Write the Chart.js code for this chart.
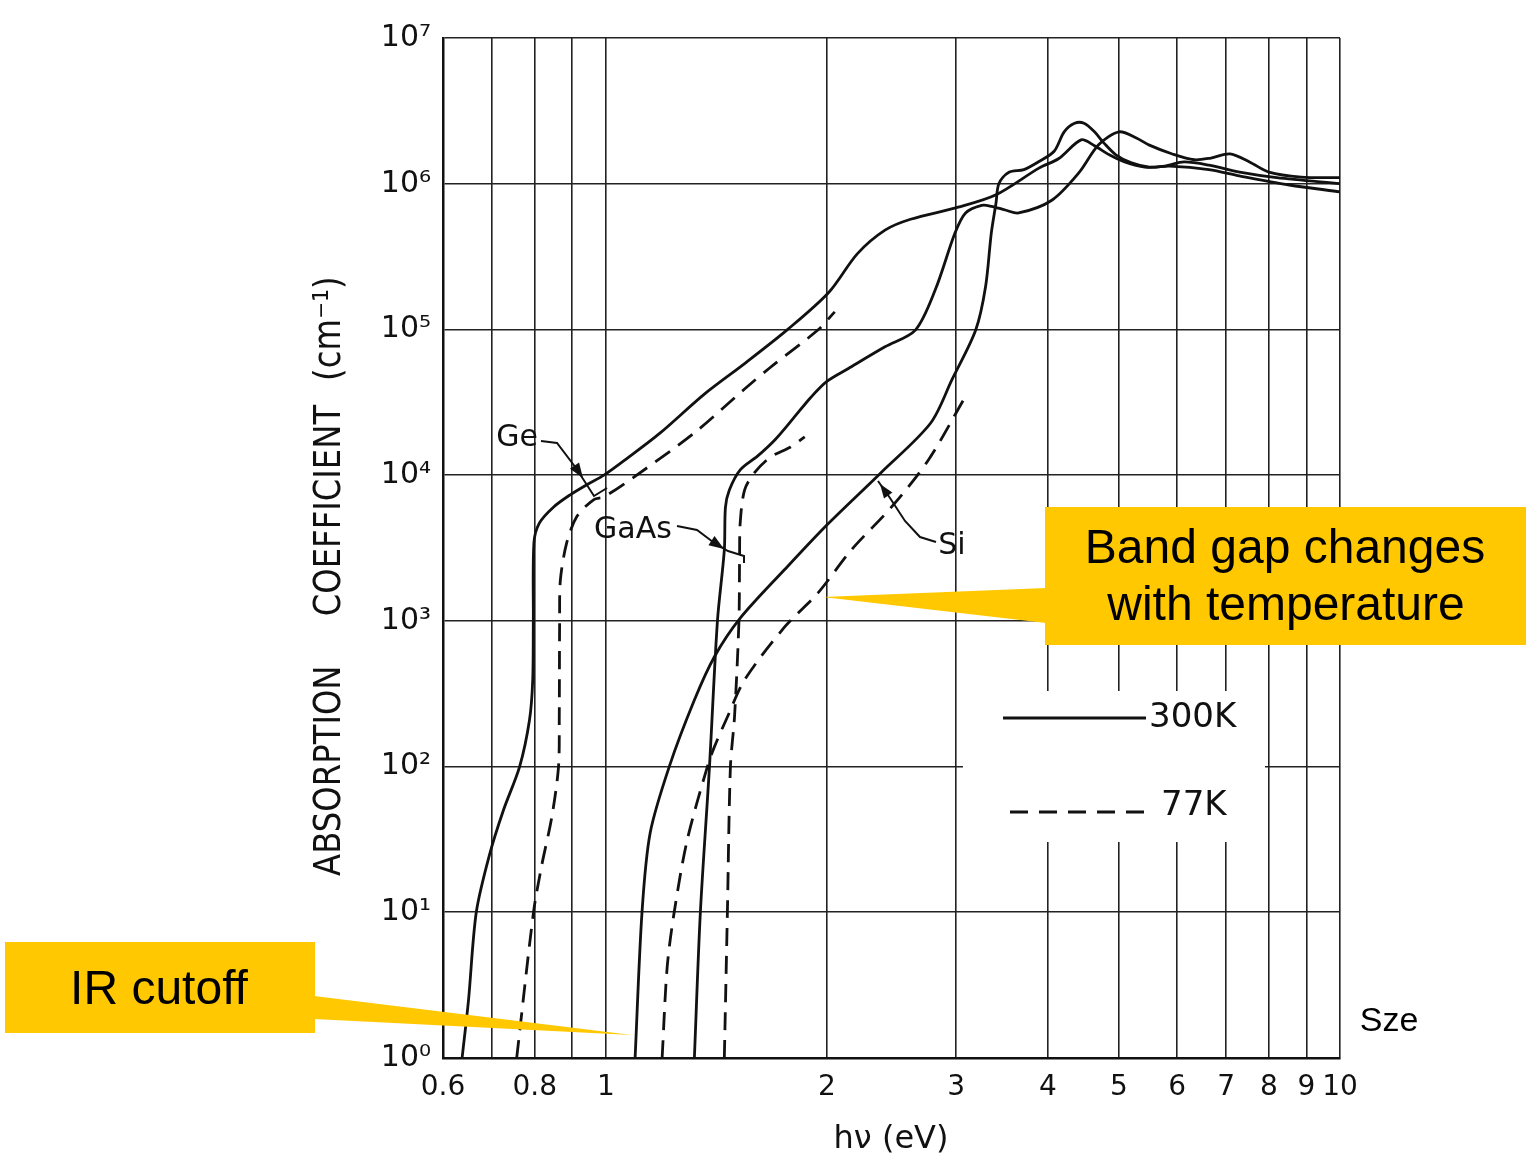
<!DOCTYPE html>
<html>
<head>
<meta charset="utf-8">
<title>Absorption coefficient vs photon energy</title>
<script src="https://cdn.jsdelivr.net/npm/chart.js@4.4.1/dist/chart.umd.min.js"></script>
<style>
  html, body { margin: 0; padding: 0; background: #fff; }
  #wrap { width: 1528px; height: 1164px; position: relative; }
</style>
</head>
<body>
<div id="wrap"><canvas id="myChart"></canvas></div>
<script>
// photon energy h-nu (eV) and absorption coefficient (cm^-1)
const geEnergy300 = [0.637, 0.650, 0.666, 0.694, 0.725, 0.763, 0.787, 0.795, 0.7965, 0.798, 0.812, 0.849, 0.893, 0.942, 0.994, 1.068, 1.186, 1.362, 1.55, 1.769, 2.013, 2.2, 2.4, 2.6, 3.02, 3.40, 3.89, 4.14, 4.44, 4.63, 4.85, 5.09, 5.42, 5.77, 6.13, 6.63, 7.3, 8.2, 10];
const geAlpha300 = [1, 2.5, 10, 24.7, 50, 100, 209, 393, 1000, 3430, 4700, 6050, 7300, 8600, 1.0e4, 1.3e4, 1.95e4, 3.6e4, 5.9e4, 1.0e5, 1.8e5, 3.3e5, 4.8e5, 5.7e5, 6.9e5, 8.4e5, 1.28e6, 1.49e6, 2.0e6, 1.82e6, 1.58e6, 1.41e6, 1.30e6, 1.32e6, 1.41e6, 1.34e6, 1.2e6, 1.1e6, 1.0e6];

const geEnergy77 = [0.756, 0.797, 0.817, 0.844, 0.862, 0.864, 0.865, 0.867, 0.884, 0.913, 0.963, 0.994, 1.092, 1.32, 1.545, 1.676, 1.944, 2.05];
const geAlpha77 = [1, 10, 20.5, 45, 100, 219, 1000, 1900, 3400, 5200, 6800, 7100, 9700, 1.95e4, 3.9e4, 5.5e4, 9.9e4, 1.32e5];

const gaasEnergy300 = [1.32, 1.345, 1.384, 1.419, 1.45, 1.455, 1.473, 1.525, 1.609, 1.70, 1.80, 1.9, 2.0, 2.14, 2.40, 2.64, 2.81, 2.99, 3.09, 3.25, 3.35, 3.50, 3.65, 4.05, 4.41, 4.69, 5.0, 5.28, 5.5, 5.91, 6.33, 6.67, 7.08, 7.53, 8.0, 8.85, 10];
const gaasAlpha300 = [1, 10, 100, 1000, 3070, 6000, 7900, 1.09e4, 1.35e4, 1.75e4, 2.45e4, 3.4e4, 4.4e4, 5.4e4, 7.6e4, 9.9e4, 1.87e5, 4.6e5, 6.3e5, 7.1e5, 7.0e5, 6.6e5, 6.3e5, 7.7e5, 1.19e6, 1.85e6, 2.27e6, 2.06e6, 1.84e6, 1.6e6, 1.46e6, 1.5e6, 1.6e6, 1.41e6, 1.2e6, 1.11e6, 1.1e6];

const gaasEnergy77 = [1.45, 1.464, 1.478, 1.497, 1.518, 1.521, 1.524, 1.545, 1.594, 1.676, 1.785, 1.866];
const gaasAlpha77 = [1, 10, 100, 219, 1000, 2750, 4700, 7900, 1.04e4, 1.33e4, 1.56e4, 1.83e4];

const siEnergy300 = [1.096, 1.12, 1.149, 1.22, 1.32, 1.405, 1.525, 1.752, 2.0, 2.37, 2.77, 2.96, 3.19, 3.29, 3.35, 3.40, 3.43, 3.54, 3.71, 3.89, 4.08, 4.21, 4.35, 4.48, 4.63, 4.77, 4.95, 5.20, 5.50, 5.86, 6.63, 7.3, 8.53, 10];
const siAlpha300 = [1, 10, 35, 100, 286, 565, 1047, 2250, 4550, 1.04e4, 2.28e4, 4.5e4, 9.9e4, 1.96e5, 4.6e5, 7.4e5, 1.0e6, 1.2e6, 1.25e6, 1.42e6, 1.67e6, 2.27e6, 2.6e6, 2.6e6, 2.27e6, 1.9e6, 1.58e6, 1.39e6, 1.30e6, 1.32e6, 1.25e6, 1.13e6, 9.8e5, 8.8e5];

const siEnergy77 = [1.193, 1.212, 1.239, 1.29, 1.375, 1.405, 1.464, 1.545, 1.752, 1.944, 2.16, 2.45, 2.75, 3.07];
const siAlpha77 = [1, 4.2, 10, 31, 100, 136, 219, 393, 908, 1550, 3070, 6050, 1.27e4, 3.28e4];

const xTicks = [0.6, 0.7, 0.8, 0.9, 1, 2, 3, 4, 5, 6, 7, 8, 9, 10];
const xTickLabels = ['0.6', '', '0.8', '', '1', '2', '3', '4', '5', '6', '7', '8', '9', '10'];
const yTicks = [1, 10, 100, 1e3, 1e4, 1e5, 1e6, 1e7];
const yTickLabels = ['10⁰', '10¹', '10²', '10³', '10⁴', '10⁵', '10⁶', '10⁷'];

// where the two callout wedges point (eV, cm^-1)
const irCutoffTip = [1.085, 1.44];
const bandGapTip = [1.974, 1460];

const ink = '#111';

function pts(xs, ys) {
    return xs.map((x, i) => ({ x: x, y: ys[i] }));
}

function arrowHead(ctx, x1, y1, x2, y2, size) {
    const a = Math.atan2(y2 - y1, x2 - x1);
    ctx.beginPath();
    ctx.moveTo(x2, y2);
    ctx.lineTo(x2 - size * Math.cos(a - 0.35), y2 - size * Math.sin(a - 0.35));
    ctx.lineTo(x2 - size * Math.cos(a + 0.35), y2 - size * Math.sin(a + 0.35));
    ctx.closePath();
    ctx.fill();
}

function polyline(ctx, p) {
    ctx.beginPath();
    ctx.moveTo(p[0][0], p[0][1]);
    for (let i = 1; i < p.length; i++) ctx.lineTo(p[i][0], p[i][1]);
    ctx.stroke();
}

const annotations = {
    id: 'annotations',
    beforeDatasetsDraw(chart) {
        // the grid is broken behind the legend in the original
        const ctx = chart.ctx;
        ctx.save();
        ctx.fillStyle = '#fff';
        ctx.fillRect(963, 691, 302, 151);
        ctx.restore();
    },
    afterDraw(chart) {
        const ctx = chart.ctx;
        const xs = chart.scales.x, ys = chart.scales.y;
        ctx.save();
        ctx.fillStyle = ink;
        ctx.strokeStyle = ink;

        // y axis title, narrow lettering with wide gaps between the words
        ctx.save();
        ctx.translate(330, 582);
        ctx.rotate(-Math.PI / 2);
        ctx.scale(0.85, 1);
        ctx.font = '38px "DejaVu Sans"';
        ctx.textAlign = 'center';
        ctx.textBaseline = 'middle';
        ctx.fillText('ABSORPTION', -222, 0);
        ctx.fillText('COEFFICIENT', 84, 0);
        ctx.fillText('(cm⁻¹)', 298, 0);
        ctx.restore();

        // x axis title
        ctx.font = '32px "DejaVu Sans"';
        ctx.textAlign = 'center';
        ctx.textBaseline = 'middle';
        ctx.fillText('hν (eV)', 891, 1140);

        // curve labels with leaders
        ctx.font = '30px "DejaVu Sans"';
        ctx.fillText('Ge', 517, 438);
        ctx.fillText('GaAs', 633, 530);
        ctx.fillText('Si', 952, 546);
        ctx.lineWidth = 2;
        polyline(ctx, [[541, 441], [557, 443], [576, 468], [594, 496], [607, 488]]);
        arrowHead(ctx, 570, 459, 583, 478, 16);
        polyline(ctx, [[677, 526], [697, 530], [713, 542], [728, 551], [744, 556], [744, 563]]);
        arrowHead(ctx, 700, 533, 724, 549, 16);
        polyline(ctx, [[936, 542], [920, 537], [905, 521], [890, 498], [878, 481]]);
        arrowHead(ctx, 895, 505, 880, 484, 15);

        // legend
        ctx.lineWidth = 2.8;
        polyline(ctx, [[1003, 718], [1146, 718]]);
        ctx.setLineDash([18, 11]);
        polyline(ctx, [[1010, 812], [1152, 812]]);
        ctx.setLineDash([]);
        ctx.font = '34px "DejaVu Sans"';
        ctx.textAlign = 'left';
        ctx.fillText('300K', 1149, 718);
        ctx.fillText('77K', 1161, 806);

        // yellow callouts
        const yellow = '#FFC800';
        ctx.fillStyle = yellow;
        const irX = xs.getPixelForValue(irCutoffTip[0]), irY = ys.getPixelForValue(irCutoffTip[1]);
        ctx.fillRect(5, 942, 310, 91);
        ctx.beginPath();
        ctx.moveTo(314, 996);
        ctx.lineTo(irX, irY);
        ctx.lineTo(314, 1019);
        ctx.closePath();
        ctx.fill();

        const bgX = xs.getPixelForValue(bandGapTip[0]), bgY = ys.getPixelForValue(bandGapTip[1]);
        ctx.fillRect(1045, 507, 481, 138);
        ctx.beginPath();
        ctx.moveTo(1046, 588);
        ctx.lineTo(bgX, bgY);
        ctx.lineTo(1046, 623);
        ctx.closePath();
        ctx.fill();

        ctx.fillStyle = '#000';
        ctx.font = '48px "Liberation Sans", Arial, sans-serif';
        ctx.textAlign = 'center';
        ctx.fillText('IR cutoff', 159, 991);
        ctx.fillText('Band gap changes', 1285, 550);
        ctx.fillText('with temperature', 1286, 607);
        ctx.font = '34px "Liberation Sans", Arial, sans-serif';
        ctx.fillText('Sze', 1389, 1022);
        ctx.restore();
    }
};

document.addEventListener('DOMContentLoaded', () => {
    const ctx = document.getElementById('myChart').getContext('2d');

    const solid = { borderColor: ink, borderWidth: 2.8, pointRadius: 0, showLine: true, tension: 0.3, fill: false };
    const dashed = Object.assign({}, solid, { borderDash: [18, 10] });

    const grid = { color: '#222', lineWidth: 1.6, drawTicks: false };
    const border = { color: ink, width: 2.5 };
    const tickFont = { family: 'DejaVu Sans', size: 28 };

    new Chart(ctx, {
        type: 'scatter',
        data: {
            datasets: [
                Object.assign({ label: 'Ge 300K', data: pts(geEnergy300, geAlpha300) }, solid),
                Object.assign({ label: 'Ge 77K', data: pts(geEnergy77, geAlpha77) }, dashed),
                Object.assign({ label: 'GaAs 300K', data: pts(gaasEnergy300, gaasAlpha300) }, solid),
                Object.assign({ label: 'GaAs 77K', data: pts(gaasEnergy77, gaasAlpha77) }, dashed),
                Object.assign({ label: 'Si 300K', data: pts(siEnergy300, siAlpha300) }, solid),
                Object.assign({ label: 'Si 77K', data: pts(siEnergy77, siAlpha77) }, dashed)
            ]
        },
        options: {
            responsive: true,
            maintainAspectRatio: false,
            animation: false,
            layout: { padding: { left: 363, top: 38, right: 188, bottom: 0 } },
            plugins: {
                legend: { display: false },
                tooltip: { enabled: false }
            },
            scales: {
                x: {
                    type: 'logarithmic',
                    min: 0.6,
                    max: 10,
                    afterBuildTicks: (s) => { s.ticks = xTicks.map(v => ({ value: v })); },
                    afterFit: (s) => { s.height = 106; },
                    ticks: {
                        autoSkip: false,
                        maxRotation: 0,
                        padding: 13,
                        color: ink,
                        font: tickFont,
                        callback: (v) => {
                            const i = xTicks.findIndex(t => Math.abs(t - v) < 1e-9);
                            return i < 0 ? '' : xTickLabels[i];
                        }
                    },
                    grid: grid,
                    border: border
                },
                y: {
                    type: 'logarithmic',
                    min: 1,
                    max: 1e7,
                    afterBuildTicks: (s) => { s.ticks = yTicks.map(v => ({ value: v })); },
                    afterFit: (s) => { s.width = 80; },
                    ticks: {
                        autoSkip: false,
                        padding: 12,
                        color: ink,
                        font: Object.assign({}, tickFont, { size: 30 }),
                        callback: (v) => {
                            const i = yTicks.findIndex(t => Math.abs(t - v) < 1e-6 * t);
                            return i < 0 ? '' : yTickLabels[i];
                        }
                    },
                    grid: grid,
                    border: border
                }
            }
        },
        plugins: [annotations]
    });
});
</script>
</body>
</html>
